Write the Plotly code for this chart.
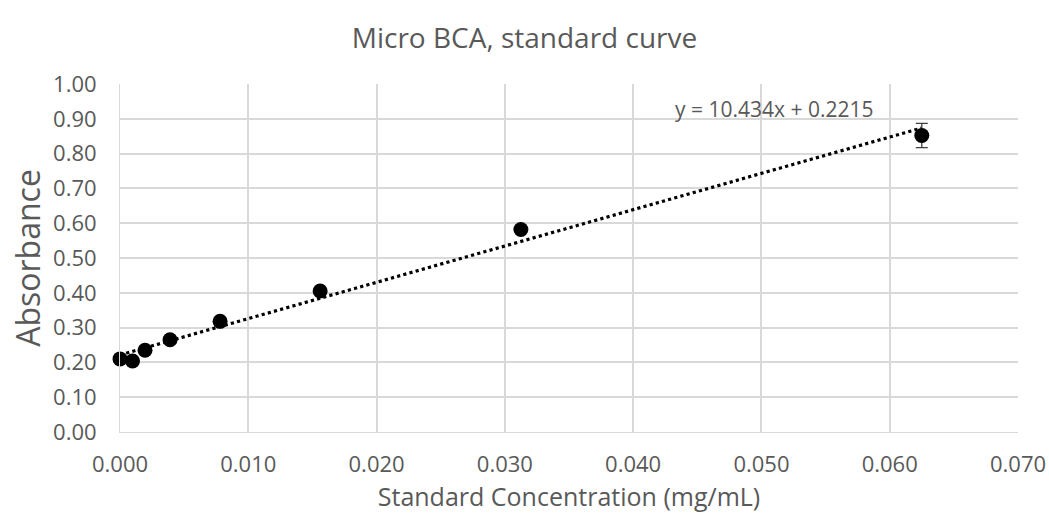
import plotly.graph_objects as go
import numpy as np

conc = [0.0, 0.000977, 0.00195, 0.0039, 0.0078, 0.0156, 0.03125, 0.0625]
absorb = [0.210, 0.204, 0.235, 0.265, 0.318, 0.405, 0.582, 0.852]
err = [0.003, 0.003, 0.004, 0.004, 0.005, 0.005, 0.006, 0.035]
slope, intercept = 10.434, 0.2215

fig = go.Figure()
tx = np.linspace(0, 0.0625, 60)
fig.add_trace(go.Scatter(x=tx, y=slope * tx + intercept, mode="lines",
                         line=dict(color="black", width=3.2, dash="dot"), showlegend=False))
fig.add_trace(go.Scatter(x=conc, y=absorb, mode="markers", cliponaxis=False,
                         marker=dict(color="black", size=15),
                         error_y=dict(type="data", array=err, color="#404040", thickness=1.3, width=6),
                         showlegend=False))

fig.add_annotation(x=0.0510, y=0.927, text="y = 10.434x + 0.2215", showarrow=False,
                   font=dict(size=21, color="#595959"))

font = "Open Sans, sans-serif"
fig.update_layout(
    width=1049, height=525,
    margin=dict(l=120, r=31, t=84, b=93),
    paper_bgcolor="white", plot_bgcolor="white",
    font=dict(family=font, color="#595959"),
    title=dict(text="Micro BCA, standard curve", x=0.5, xanchor="center", y=0.928, yanchor="middle",
               font=dict(size=28, color="#595959")),
    xaxis=dict(range=[0, 0.07], dtick=0.01, tickformat=".3f", showgrid=True, gridcolor="#d9d9d9",
               gridwidth=1.5, zeroline=False, showline=True, linecolor="#d9d9d9",
               tickfont=dict(size=22), ticks="", ticklabelstandoff=13, automargin=False,
               title=dict(text="Standard Concentration (mg/mL)", font=dict(size=25), standoff=11)),
    yaxis=dict(range=[0, 1.0], dtick=0.1, tickformat=".2f", showgrid=True, gridcolor="#d9d9d9",
               gridwidth=1.5, zeroline=False, showline=True, linecolor="#d9d9d9",
               tickfont=dict(size=22), ticks="", ticklabelstandoff=18, automargin=False,
               title=dict(text="Absorbance", font=dict(size=32), standoff=2)),
)
fig.write_html("out.html")
